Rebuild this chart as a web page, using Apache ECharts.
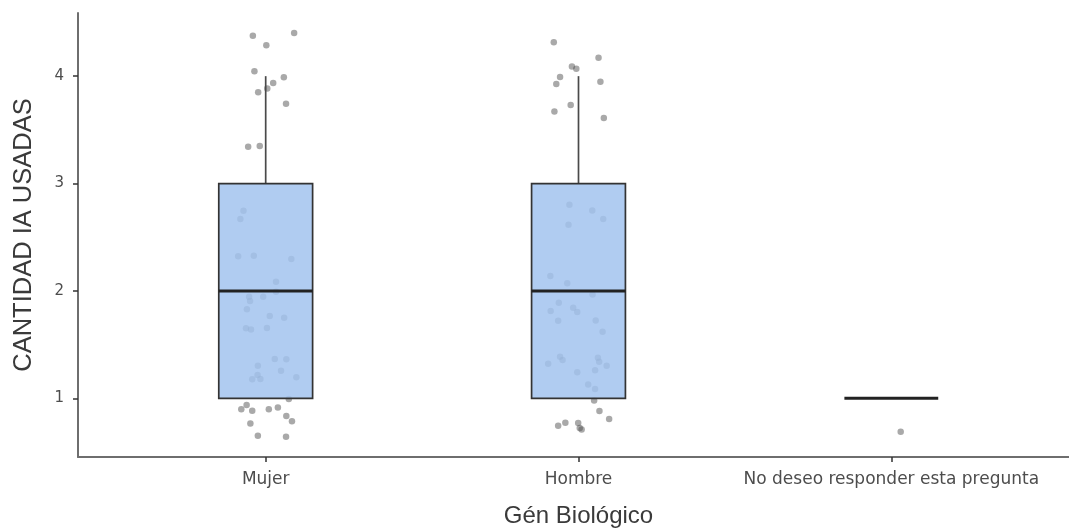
<!DOCTYPE html>
<html>
<head>
<meta charset="utf-8">
<script src="https://cdn.jsdelivr.net/npm/echarts@6/dist/echarts.min.js"></script>
<style>
html,body{margin:0;padding:0;background:#fff;}
#chart{width:1069px;height:532px;}
</style>
</head>
<body>
<div id="chart"></div>
<script>
// ---- data ----
const categories = ['Mujer', 'Hombre', 'No deseo responder esta pregunta'];
const yTicks = [1, 2, 3, 4];
// [category index, min (whisker), Q1, median, Q3, max (whisker)]
const boxStats = [
  [0, 1, 1, 2, 3, 4],
  [1, 1, 1, 2, 3, 4],
  [2, 1, 1, 1, 1, 1]
];
// jittered points: [x position (category index + jitter), y value]
const mujerPoints = [
  [-0.041, 4.376], [0.091, 4.401], [0.002, 4.287], [-0.036, 4.045], [0.058, 3.989],
  [0.024, 3.936], [0.005, 3.886], [-0.024, 3.849], [0.065, 3.743], [-0.056, 3.343],
  [-0.019, 3.349], [-0.071, 2.747], [-0.081, 2.669], [-0.088, 2.322], [-0.038, 2.328],
  [0.082, 2.297], [0.033, 2.086], [0.033, 1.993], [-0.053, 1.946], [-0.008, 1.946],
  [-0.050, 1.906], [-0.060, 1.829], [0.013, 1.766], [0.059, 1.750], [-0.063, 1.652],
  [-0.047, 1.642], [0.004, 1.655], [0.029, 1.366], [0.066, 1.363], [-0.025, 1.304],
  [0.049, 1.257], [-0.026, 1.217], [-0.043, 1.177], [-0.017, 1.180], [0.098, 1.196],
  [0.074, 0.993], [-0.061, 0.938], [-0.078, 0.898], [-0.043, 0.885], [0.010, 0.898],
  [0.039, 0.916], [0.066, 0.835], [0.084, 0.786], [-0.049, 0.767], [-0.025, 0.652],
  [0.065, 0.642]
];
const hombrePoints = [
  [0.921, 4.315], [1.064, 4.171], [0.979, 4.091], [0.993, 4.069], [0.941, 3.992],
  [0.929, 3.926], [1.070, 3.948], [0.975, 3.731], [0.923, 3.672], [1.081, 3.610],
  [0.971, 2.803], [1.044, 2.750], [1.079, 2.669], [0.968, 2.616], [0.910, 2.139],
  [0.964, 2.071], [1.045, 1.968], [0.937, 1.890], [0.911, 1.813], [0.983, 1.844],
  [0.996, 1.804], [0.935, 1.723], [1.055, 1.726], [1.077, 1.620], [0.941, 1.387],
  [0.949, 1.357], [1.062, 1.378], [1.066, 1.341], [0.903, 1.322], [1.090, 1.304],
  [0.996, 1.242], [1.053, 1.261], [1.031, 1.130], [1.053, 1.087], [1.050, 0.981],
  [1.067, 0.882], [1.098, 0.807], [0.935, 0.745], [0.958, 0.773], [0.999, 0.770],
  [1.004, 0.724], [1.010, 0.711]
];
const noDeseoPoints = [
  [2.030, 0.689]
];

// ---- chart ----
const BOX_WIDTH = 0.3;
const chart = echarts.init(document.getElementById('chart'), null, {renderer: 'canvas'});
const allPoints = mujerPoints.concat(hombrePoints, noDeseoPoints);

const option = {
  animation: false,
  backgroundColor: '#ffffff',
  grid: {left: 78, top: 13, width: 1001, height: 444, outerBoundsMode: 'none', containLabel: false},
  xAxis: {
    type: 'value',
    min: -0.6,
    max: 2.6,
    name: 'Gén Biológico',
    nameLocation: 'middle',
    nameGap: 47,
    nameTextStyle: {fontFamily: 'Liberation Sans', fontSize: 24, color: '#3a3a3a'},
    axisLine: {onZero: false, lineStyle: {color: '#6e6e6e', width: 2}},
    axisTick: {show: true, length: 5, customValues: [0, 1, 2], lineStyle: {color: '#333', width: 1.5}},
    axisLabel: {
      customValues: [0, 1, 2],
      margin: 14,
      fontFamily: 'DejaVu Sans',
      fontSize: 17,
      color: '#4d4d4d',
      formatter: function (v) { return categories[Math.round(v)]; }
    },
    splitLine: {show: false}
  },
  yAxis: {
    type: 'value',
    min: 0.454,
    max: 4.588,
    name: 'CANTIDAD IA USADAS',
    nameLocation: 'middle',
    nameGap: 41,
    nameTextStyle: {fontFamily: 'Liberation Sans', fontSize: 25.5, color: '#3a3a3a'},
    axisLine: {show: true, onZero: false, lineStyle: {color: '#6e6e6e', width: 2}},
    axisTick: {show: true, length: 5, customValues: yTicks, lineStyle: {color: '#333', width: 1.5}},
    axisLabel: {
      customValues: yTicks,
      margin: 14,
      fontFamily: 'DejaVu Sans',
      fontSize: 15,
      color: '#4d4d4d'
    },
    splitLine: {show: false}
  },
  series: [
    {
      type: 'scatter',
      z: 1,
      data: allPoints,
      symbol: 'circle',
      symbolSize: 6.5,
      itemStyle: {color: 'rgba(75,75,75,0.6)'},
      silent: true
    },
    {
      type: 'custom',
      z: 2,
      data: boxStats,
      encode: {x: 0, y: [1, 2, 3, 4, 5]},
      renderItem: function (params, api) {
        const x = api.value(0);
        const lo = api.value(1), q1 = api.value(2), med = api.value(3), q3 = api.value(4), hi = api.value(5);
        const w = api.size([BOX_WIDTH, 0])[0];
        const pLo = api.coord([x, lo]);
        const pQ1 = api.coord([x, q1]);
        const pMed = api.coord([x, med]);
        const pQ3 = api.coord([x, q3]);
        const pHi = api.coord([x, hi]);
        const children = [];
        if (pHi[1] < pQ3[1]) {
          children.push({type: 'line', shape: {x1: pQ3[0], y1: pQ3[1], x2: pHi[0], y2: pHi[1]},
            style: {stroke: '#4a4a4a', lineWidth: 1.7}});
        }
        if (pLo[1] > pQ1[1]) {
          children.push({type: 'line', shape: {x1: pQ1[0], y1: pQ1[1], x2: pLo[0], y2: pLo[1]},
            style: {stroke: '#4a4a4a', lineWidth: 1.7}});
        }
        if (pQ1[1] - pQ3[1] > 0.5) {
          children.push({type: 'rect', shape: {x: pQ3[0] - w / 2, y: pQ3[1], width: w, height: pQ1[1] - pQ3[1]},
            style: {fill: 'rgba(162,195,238,0.85)', stroke: '#333', lineWidth: 1.7}});
        }
        children.push({type: 'line', shape: {x1: pMed[0] - w / 2, y1: pMed[1], x2: pMed[0] + w / 2, y2: pMed[1]},
          style: {stroke: '#222', lineWidth: 3}});
        return {type: 'group', children: children};
      }
    }
  ]
};
chart.setOption(option);
</script>
</body>
</html>
